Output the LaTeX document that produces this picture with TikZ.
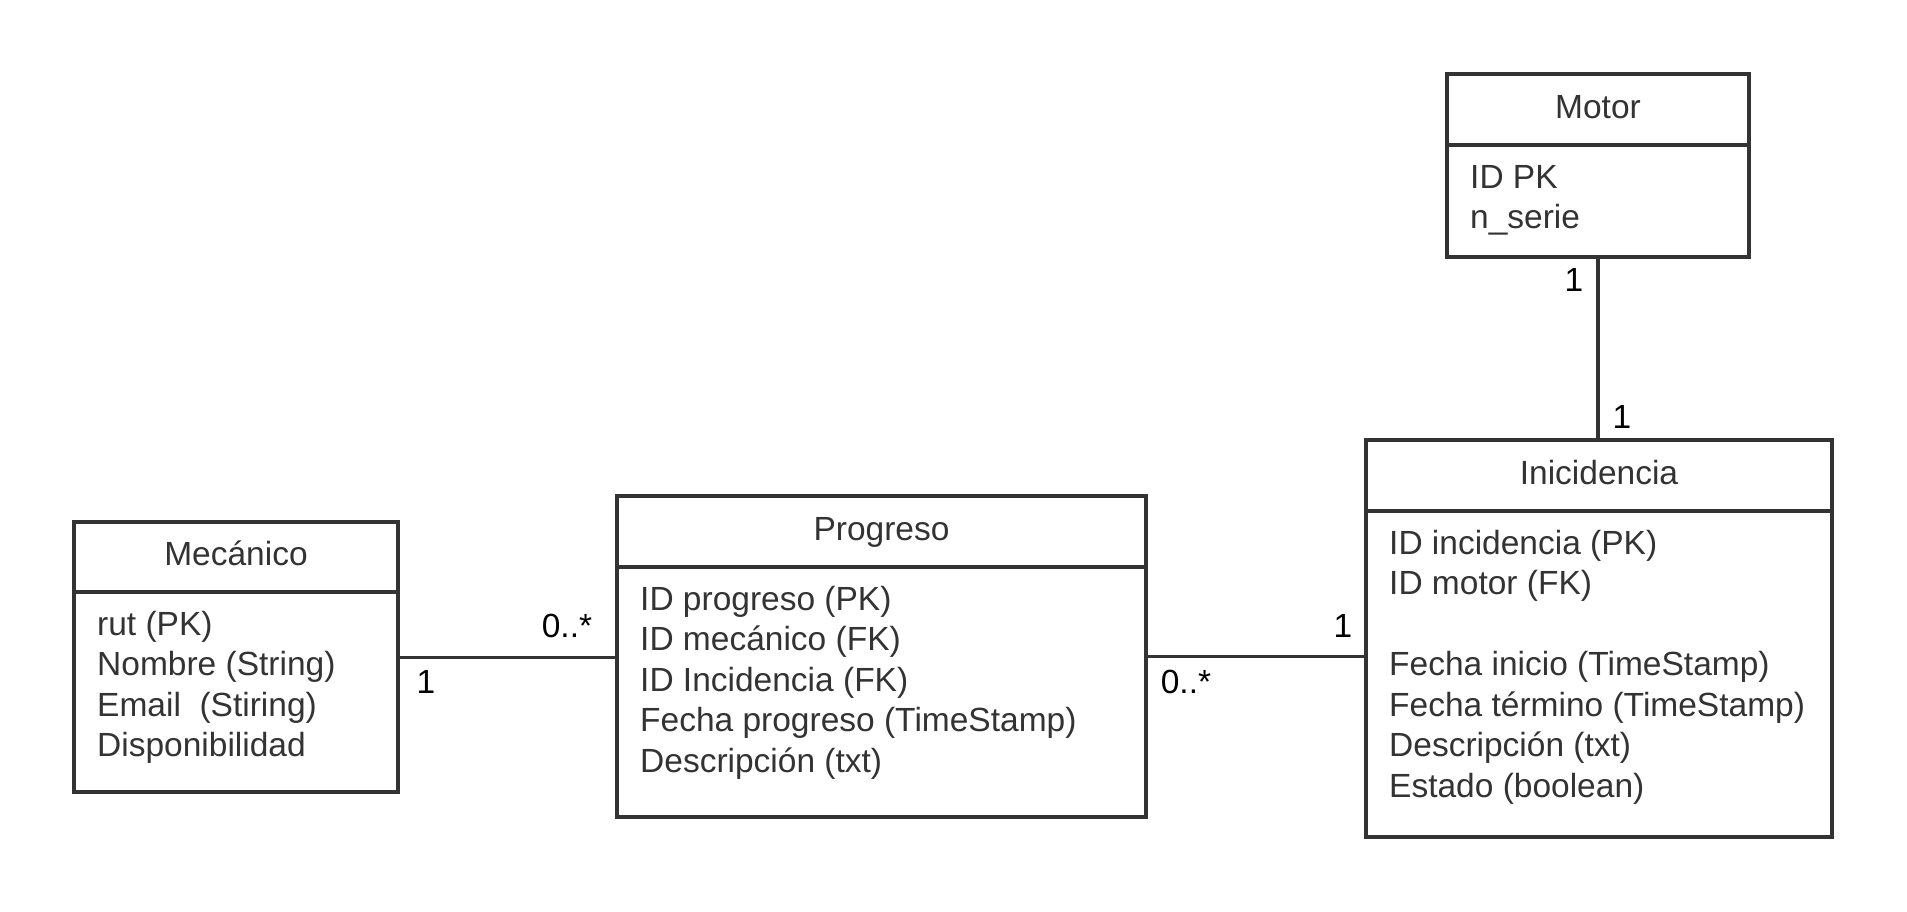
\documentclass[tikz,border=0pt]{standalone}
\usepackage{fontspec}
\setmainfont{Liberation Sans}
\definecolor{ink}{HTML}{333333}
\begin{document}
\begin{tikzpicture}[x=1pt,y=-1pt,
  entity/.style={draw=ink, line width=4pt, anchor=north west, inner sep=0pt, outer sep=0pt},
  txt/.style={text=ink, font=\fontsize{33.5}{40.5}\selectfont, inner sep=0pt},
  attrs/.style={txt, anchor=base west},
  ttl/.style={txt, anchor=base},
  mult/.style={ttl, text=black},
  sep/.style={draw=ink, line width=4pt},
  conn/.style={draw=ink, line width=3pt}]
\useasboundingbox[fill=white] (0,0) rectangle (1907,911);

% Mecánico
\node[entity, minimum width=324pt, minimum height=270pt] (mec) at (74,522) {};
\draw[sep] (74,592) -- (398,592);
\node[ttl] (mect) at (236,565) {Mecánico};
\node[attrs] (meca) at (97,635) {\begin{tabular}[t]{@{}l@{}}rut (PK)\\Nombre (String)\\Email\ \ (Stiring)\\Disponibilidad\end{tabular}};

% Progreso
\node[entity, minimum width=529pt, minimum height=321pt] (prog) at (617,496) {};
\draw[sep] (617,567) -- (1146,567);
\node[ttl] (progt) at (881.5,540) {Progreso};
\node[attrs] (proga) at (640,610) {\begin{tabular}[t]{@{}l@{}}ID progreso (PK)\\ID mecánico (FK)\\ID Incidencia (FK)\\Fecha progreso (TimeStamp)\\Descripción (txt)\end{tabular}};

% Inicidencia
\node[entity, minimum width=466pt, minimum height=397pt] (inc) at (1366,440) {};
\draw[sep] (1366,511) -- (1832,511);
\node[ttl] (inct) at (1599,484) {Inicidencia};
\node[attrs] (inca) at (1389,554) {\begin{tabular}[t]{@{}l@{}}ID incidencia (PK)\\ID motor (FK)\\ \\Fecha inicio (TimeStamp)\\Fecha término (TimeStamp)\\Descripción (txt)\\Estado (boolean)\end{tabular}};

% Motor
\node[entity, minimum width=302pt, minimum height=183pt] (mot) at (1447,74) {};
\draw[sep] (1447,145) -- (1749,145);
\node[ttl] (mott) at (1598,118) {Motor};
\node[attrs] (mota) at (1470,188) {\begin{tabular}[t]{@{}l@{}}ID PK\\n\_serie\end{tabular}};

% Connectors
\draw[conn] (mec.east) -- (mec.east -| prog.west);
\draw[conn] (prog.east) -- (prog.east -| inc.west);
\draw[sep] (mot.south) -- (mot.south |- inc.north);

% Multiplicities
\node[mult] (m1) at (426,693) {1};
\node[mult] (m2) at (567,637) {0..*};
\node[mult] (m3) at (1186,693) {0..*};
\node[mult] (m4) at (1343,637) {1};
\node[mult] (m5) at (1574,291) {1};
\node[mult] (m6) at (1622,428) {1};
\end{tikzpicture}
\end{document}
